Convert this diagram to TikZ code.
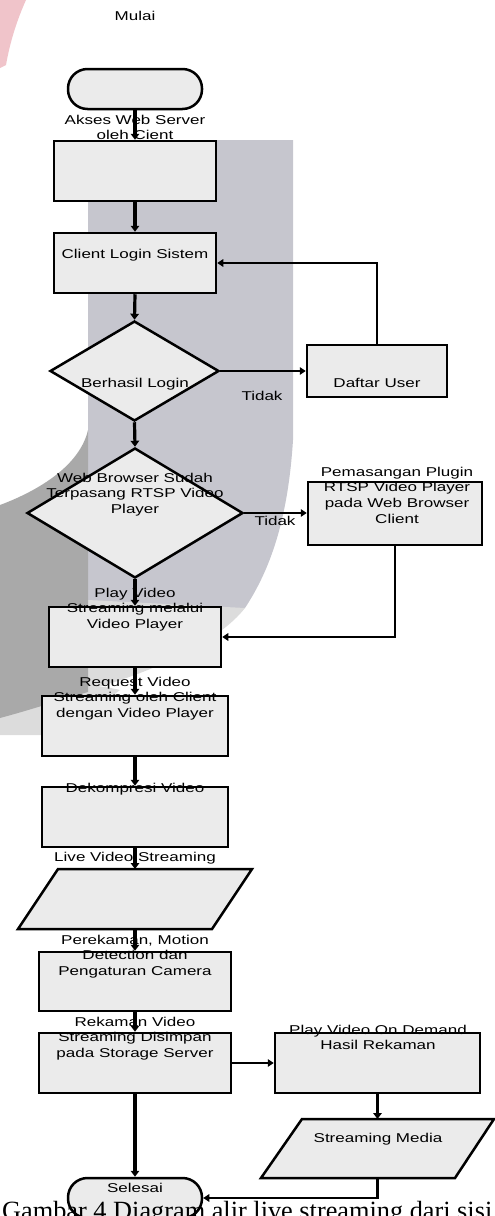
\documentclass[tikz,border=0pt]{standalone}
\usepackage{fontspec}
\setmainfont{Liberation Sans}[FakeStretch=1.33]
\newfontfamily\capfont{Liberation Serif}
\usetikzlibrary{arrows.meta,shapes.geometric}
\definecolor{boxfill}{HTML}{EBEBEB}
\definecolor{wmband}{HTML}{C6C6CE}
\definecolor{wmdark}{HTML}{A9A9A9}
\definecolor{wmlight}{HTML}{DCDCDC}
\definecolor{wmpink}{HTML}{F0C4CA}
\tikzset{
  lbl/.style={inner sep=0pt, align=center, font=\fontsize{12.8}{15.7}\selectfont},
  procbox/.style={draw, line width=2.5pt, fill=boxfill, inner sep=0pt},
  term/.style={draw, line width=2.5pt, fill=boxfill, inner sep=0pt, rounded corners=19.5pt},
  decbox/.style={diamond, draw, line width=2.5pt, fill=boxfill, inner sep=0pt},
  iobox/.style={draw, line width=2.5pt, fill=boxfill},
  flow/.style={line width=3.2pt, -{Triangle[length=6pt,width=8.5pt]}},
  flowthin/.style={line width=2.3pt, -{Triangle[length=6pt,width=7.5pt]}}
}
\begin{document}
\begin{tikzpicture}[x=1pt,y=-1pt]
\useasboundingbox (0,0) rectangle (495,1216);
% watermark
\fill[wmpink] (0,0) -- (26,0) .. controls (17,20) and (10,42) .. (6,65) -- (0,68) -- cycle;
\fill[wmlight] (0,700) .. controls (40,690) and (80,680) .. (120,690) -- (60,735) -- (0,735) -- cycle;
\fill[wmband] (88,140) -- (293,140) -- (293,440) .. controls (288,520) and (270,570) .. (245,608) -- (88,640) -- cycle;
\fill[wmlight] (88,600) -- (245,608) .. controls (220,640) and (160,670) .. (88,690) -- cycle;
\fill[wmdark] (0,505) .. controls (40,490) and (80,465) .. (88,430) -- (88,692) .. controls (60,700) and (30,710) .. (0,718) -- cycle;
% shapes
\node[term, minimum width=134pt, minimum height=40pt] (start) at (135,89) {};
\node[procbox, minimum width=162pt, minimum height=60pt] (b1) at (135,171) {};
\node[procbox, minimum width=162pt, minimum height=60pt] (b2) at (135,263) {};
\node[decbox, minimum width=169pt, minimum height=100pt] (d1) at (134.5,371) {};
\node[procbox, minimum width=140pt, minimum height=52pt] (daftar) at (377,371) {};
\node[decbox, minimum width=216pt, minimum height=130pt] (d2) at (135,513) {};
\node[procbox, minimum width=174pt, minimum height=63pt] (plugin) at (395,513.5) {};
\node[procbox, minimum width=172pt, minimum height=60pt] (b3) at (135,637) {};
\node[procbox, minimum width=186pt, minimum height=60pt] (b4) at (135,726) {};
\node[procbox, minimum width=186pt, minimum height=60pt] (b5) at (135,817) {};
\draw[iobox] (18,929) -- (58,869) -- (252,869) -- (212,929) -- cycle;
\coordinate (p1n) at (135,869);
\coordinate (p1s) at (135,929);
\node[procbox, minimum width=192pt, minimum height=59pt] (b6) at (135,981.5) {};
\node[procbox, minimum width=192pt, minimum height=60pt] (b7) at (135,1063) {};
\node[procbox, minimum width=205pt, minimum height=60pt] (b8) at (377.5,1063) {};
\draw[iobox] (261,1178) -- (302,1119) -- (494,1119) -- (455,1178) -- cycle;
\coordinate (p2n) at (377.5,1119);
\coordinate (p2s) at (377.5,1178);
\node[term, minimum width=134pt, minimum height=40pt] (end) at (135,1198) {};
% caption (cut off at the bottom edge, over the terminal)
\node[anchor=base west, inner sep=0pt, font=\capfont\fontsize{26.3}{30}\selectfont] (cap) at (2,1219) {Gambar 4 Diagram alir live streaming dari sisi};
% texts
\node[lbl, anchor=base] (tmulai) at (135,20) {Mulai};
\node[lbl] (takses) at (135,127.4) {Akses Web Server\\oleh Cient};
\node[lbl, anchor=base] (tlogin) at (135,258) {Client Login Sistem};
\node[lbl, anchor=base] (tberhasil) at (135,387) {Berhasil Login};
\node[lbl, anchor=base] (tdaftar) at (377,387) {Daftar User};
\node[lbl, anchor=base] (ttidak1) at (262,400) {Tidak};
\node[lbl] (tbrowser) at (135,494.4) {Web Browser Sudah\\Terpasang RTSP Video\\Player};
\node[lbl, anchor=base] (ttidak2) at (275,525) {Tidak};
\node[lbl] (tplugin) at (397,495) {Pemasangan Plugin\\RTSP Video Player\\pada Web Browser\\Client};
\node[lbl] (tplay) at (135,609.4) {Play Video\\Streaming melalui\\Video Player};
\node[lbl] (treq) at (135,698.4) {Request Video\\Streaming oleh Client\\dengan Video Player};
\node[lbl, anchor=base] (tdek) at (135,792) {Dekompresi Video};
\node[lbl, anchor=base] (tlive) at (135,861) {Live Video Streaming};
\node[lbl] (trek) at (135,956.4) {Perekaman, Motion\\Detection dan\\Pengaturan Camera};
\node[lbl] (tsimpan) at (135,1038.4) {Rekaman Video\\Streaming Disimpan\\pada Storage Server};
\node[lbl] (tvod) at (378,1037.3) {Play Video On Demand\\Hasil Rekaman};
\node[lbl, anchor=base] (tmedia) at (378,1142) {Streaming Media};
\node[lbl, anchor=base] (tselesai) at (135,1192) {Selesai};
% connectors
\draw[flow] (start.south) -- (b1.north);
\draw[flow] (b1.south) -- (b2.north);
\draw[flow] (b2.south) -- (d1.north);
\draw[flowthin] (d1.east) -- (daftar.west);
\draw[flowthin] (daftar.north) |- (b2.east);
\draw[flow] (d1.south) -- (d2.north);
\draw[flowthin] (d2.east) -- (d2.east -| plugin.west);
\draw[flowthin] (plugin.south) |- (b3.east);
\draw[flow] (d2.south) -- (b3.north);
\draw[flow] (b3.south) -- (b4.north);
\draw[flow] (b4.south) -- (b5.north);
\draw[flow] (b5.south) -- (p1n);
\draw[flow] (p1s) -- (b6.north);
\draw[flow] (b6.south) -- (b7.north);
\draw[flowthin] (b7.east) -- (b8.west);
\draw[flow] (b8.south) -- (p2n);
\draw[flowthin] (p2s) |- (end.east);
\draw[flow] (b7.south) -- (end.north);
\end{tikzpicture}
\end{document}
